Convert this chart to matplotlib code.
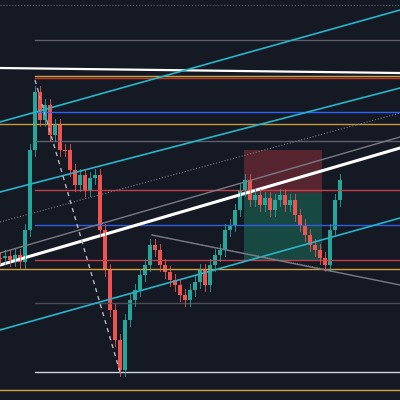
import matplotlib
matplotlib.use("Agg")
import matplotlib.pyplot as plt
from matplotlib.patches import Rectangle

# candle closes in screen-like price units (smaller = higher on chart), one per 5px
closes = [258, 256, 260, 255, 262, 230, 150, 92, 120, 105, 135, 125, 150, 150, 170,
          185, 175, 190, 178, 175, 230, 270, 310, 340, 370, 320, 300, 290, 275, 265,
          245, 250, 265, 272, 280, 285, 295, 300, 290, 282, 270, 285, 265, 255, 250,
          230, 225, 210, 190, 180, 200, 195, 205, 198, 210, 200, 195, 205, 200, 215,
          225, 235, 245, 250, 258, 265, 230, 200, 180]
wick = 6
step = 5

levels_y = [40, 78, 112, 124, 141, 190, 225, 260, 269, 303, 372, 390, 76]
levels_c = ["#5d606b", "#c0392b", "#2962ff", "#c79a3a", "#5d606b", "#c2404a", "#2e5fe0",
            "#c2404a", "#d4a040", "#4a4d57", "#d1d4dc", "#d4a040", "#d4a040"]
levels_x0 = [35, 35, 35, 0, 35, 35, 35, 35, 0, 35, 35, 0, 35]

fig, ax = plt.subplots(figsize=(4, 4), dpi=100)
fig.subplots_adjust(0, 0, 1, 1)
bg = "#151924"
fig.patch.set_facecolor(bg)
ax.set_facecolor(bg)
ax.set_xlim(0, 400)
ax.set_ylim(400, 0)
ax.axis("off")

ax.axhline(5, color="#5d606b", lw=0.8, ls=":")
for y, c, x0 in zip(levels_y, levels_c, levels_x0):
    ax.plot([x0, 400], [y, y], color=c, lw=1)

ax.add_patch(Rectangle((244, 150), 78, 43, color="#8c2f3a", alpha=0.55, lw=0))
ax.add_patch(Rectangle((244, 193), 78, 67, color="#1c6f5c", alpha=0.55, lw=0))

# trend lines
ax.plot([0, 400], [68, 73], color="white", lw=1.6)
ax.plot([0, 400], [122, 10], color="#26b5c9", lw=1.2)
ax.plot([0, 400], [192, 88], color="#26b5c9", lw=1.2)
ax.plot([0, 400], [330, 218], color="#26b5c9", lw=1.2)
ax.plot([0, 400], [265, 148], color="white", lw=2.2)
ax.plot([0, 400], [253, 137], color="#787b86", lw=1)
ax.plot([0, 400], [222, 113], color="#787b86", lw=0.8, ls=":")
ax.plot([152, 400], [235, 285], color="#787b86", lw=1)
ax.plot([152, 330], [235, 270], color="#787b86", lw=0.6, ls=":")
ax.plot([35, 120], [80, 372], color="#b2b5be", lw=1, ls=(0, (3, 3)))

prev = closes[0]
for i, c in enumerate(closes):
    x = i * step
    o = prev
    col = "#26a69a" if c < o else "#ef5350"
    ax.plot([x, x], [min(o, c) - wick, max(o, c) + wick], color=col, lw=0.6)
    ax.add_patch(Rectangle((x - step * 0.35, min(o, c)), step * 0.7,
                           max(abs(c - o), 1), color=col, lw=0))
    prev = c

fig.savefig("out.png", facecolor=bg)
